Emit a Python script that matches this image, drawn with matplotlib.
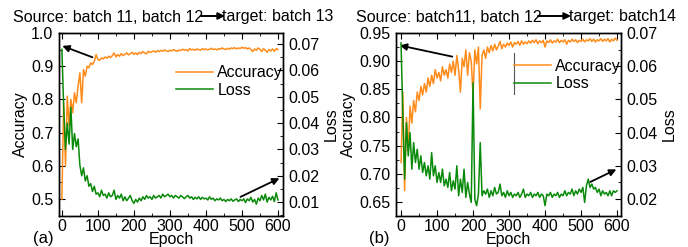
import numpy as np
import matplotlib
matplotlib.use('Agg')
import matplotlib.pyplot as plt

plt.rcParams['font.family'] = ['Liberation Sans', 'DejaVu Sans']
plt.rcParams['font.size'] = 11.5

# values, one every 5 epochs (0..600)
acc_a = [0.50, 0.79, 0.60, 0.81, 0.72, 0.80, 0.76, 0.82, 0.79, 0.84,
         0.88, 0.79, 0.89, 0.87, 0.90, 0.895, 0.91, 0.905, 0.915, 0.935,
         0.92, 0.918, 0.925, 0.922, 0.928, 0.924, 0.93, 0.926, 0.932, 0.94,
         0.928, 0.935, 0.93, 0.938, 0.932, 0.936, 0.94, 0.934, 0.938, 0.942,
         0.936, 0.94, 0.935, 0.942, 0.938, 0.944, 0.94, 0.937, 0.945, 0.941,
         0.944, 0.946, 0.942, 0.947, 0.944, 0.948, 0.945, 0.949, 0.946, 0.944,
         0.948, 0.946, 0.95, 0.947, 0.945, 0.949, 0.947, 0.951, 0.948, 0.95,
         0.946, 0.953, 0.949, 0.951, 0.948, 0.952, 0.95, 0.948, 0.953, 0.95,
         0.952, 0.949, 0.951, 0.954, 0.95, 0.952, 0.949, 0.953, 0.951, 0.955,
         0.952, 0.95, 0.954, 0.951, 0.955, 0.953, 0.956, 0.952, 0.955, 0.953,
         0.957, 0.954, 0.956, 0.952, 0.955, 0.95, 0.944, 0.952, 0.948, 0.955,
         0.951, 0.944, 0.953, 0.948, 0.942, 0.95, 0.946, 0.952, 0.945, 0.953,
         0.95]
loss_a = [0.068, 0.046, 0.030, 0.040, 0.032, 0.046, 0.030, 0.036, 0.031, 0.034,
          0.024, 0.020, 0.023, 0.018, 0.020, 0.016, 0.017, 0.014, 0.016, 0.013,
          0.0135, 0.012, 0.0145, 0.0125, 0.013, 0.0115, 0.0135, 0.012, 0.0125, 0.0145,
          0.011, 0.0125, 0.0115, 0.013, 0.0105, 0.012, 0.0105, 0.0115, 0.0125, 0.0105,
          0.0095, 0.011, 0.010, 0.0115, 0.0105, 0.012, 0.011, 0.0125, 0.0115, 0.012,
          0.011, 0.0125, 0.0115, 0.012, 0.0125, 0.0115, 0.013, 0.012, 0.0125, 0.013,
          0.012, 0.0125, 0.0115, 0.0125, 0.012, 0.0115, 0.0125, 0.012, 0.0113, 0.012,
          0.0125, 0.0115, 0.012, 0.011, 0.0118, 0.0112, 0.012, 0.011, 0.0118, 0.0112,
          0.0115, 0.0108, 0.012, 0.011, 0.0115, 0.0105, 0.0112, 0.0108, 0.0115, 0.0105,
          0.011, 0.0102, 0.011, 0.0105, 0.0112, 0.0103, 0.0108, 0.0112, 0.0102, 0.011,
          0.0105, 0.0112, 0.0098, 0.0112, 0.0105, 0.0118, 0.010, 0.011, 0.0092, 0.0115,
          0.0105, 0.0125, 0.0108, 0.013, 0.010, 0.0118, 0.0108, 0.0122, 0.0102, 0.0135,
          0.0108]
acc_b = [0.72, 0.845, 0.67, 0.80, 0.74, 0.82, 0.79, 0.83, 0.81, 0.845,
         0.83, 0.855, 0.84, 0.86, 0.845, 0.87, 0.855, 0.875, 0.86, 0.885,
         0.87, 0.88, 0.865, 0.89, 0.875, 0.885, 0.87, 0.895, 0.88, 0.90,
         0.875, 0.91, 0.885, 0.845, 0.905, 0.89, 0.92, 0.875, 0.915, 0.90,
         0.84, 0.92, 0.895, 0.925, 0.815, 0.91, 0.92, 0.905, 0.925, 0.915,
         0.928, 0.918, 0.93, 0.92, 0.927, 0.935, 0.922, 0.93, 0.925, 0.932,
         0.928, 0.934, 0.925, 0.933, 0.93, 0.935, 0.928, 0.936, 0.93, 0.934,
         0.931, 0.936, 0.932, 0.937, 0.933, 0.938, 0.931, 0.936, 0.933, 0.937,
         0.925, 0.936, 0.933, 0.938, 0.932, 0.936, 0.934, 0.939, 0.933, 0.937,
         0.934, 0.938, 0.93, 0.937, 0.934, 0.939, 0.935, 0.938, 0.933, 0.937,
         0.935, 0.939, 0.934, 0.938, 0.936, 0.94, 0.935, 0.939, 0.934, 0.938,
         0.936, 0.94, 0.935, 0.939, 0.936, 0.94, 0.934, 0.939, 0.936, 0.941,
         0.937]
loss_b = [0.067, 0.045, 0.026, 0.043, 0.033, 0.040, 0.029, 0.037, 0.031, 0.035,
          0.029, 0.033, 0.028, 0.031, 0.027, 0.030, 0.026, 0.034, 0.027, 0.030,
          0.025, 0.028, 0.025, 0.029, 0.024, 0.026, 0.0235, 0.028, 0.0225, 0.0255,
          0.023, 0.030, 0.021, 0.026, 0.022, 0.029, 0.0205, 0.025, 0.0215, 0.019,
          0.055, 0.020, 0.018, 0.0215, 0.037, 0.021, 0.0225, 0.0215, 0.023, 0.0205,
          0.0225, 0.021, 0.0235, 0.0215, 0.022, 0.0245, 0.021, 0.022, 0.0205, 0.0225,
          0.021, 0.022, 0.0205, 0.0215, 0.021, 0.022, 0.0205, 0.0215, 0.023, 0.0205,
          0.0215, 0.021, 0.022, 0.0205, 0.0215, 0.021, 0.022, 0.0205, 0.0215, 0.021,
          0.018, 0.0215, 0.021, 0.022, 0.0205, 0.0215, 0.021, 0.022, 0.0205, 0.0215,
          0.021, 0.0225, 0.021, 0.022, 0.0215, 0.023, 0.021, 0.0225, 0.0215, 0.023,
          0.022, 0.0235, 0.019, 0.024, 0.026, 0.0235, 0.0245, 0.023, 0.0235, 0.022,
          0.023, 0.021, 0.0225, 0.0215, 0.022, 0.021, 0.0225, 0.021, 0.0225, 0.022,
          0.0225]

titles = [("Source: batch 11, batch 12", "target: batch 13"),
          ("Source: batch11, batch 12", "target: batch14")]
panel_tags = ["(a)", "(b)"]

orange = '#ff8c1a'
green = '#0a8a0a'

fig = plt.figure(figsize=(6.88, 2.47), dpi=100)
W, H = 688, 247


def fx(px):
    return px / W


def fy(py):
    return 1 - py / H


def make_panel(left_px, right_px, acc, loss, ylim_acc, ylim_loss, yt_acc, yt_loss,
               acc_fmt, loss_fmt, xlim, arrow1, arrow2, leg_anchor):
    ax = fig.add_axes([fx(left_px), fy(216), fx(right_px - left_px), (216 - 33) / H])
    ax2 = ax.twinx()
    ep = np.arange(len(acc)) * 5
    l1, = ax.plot(ep, acc, color=orange, lw=1.1, label='Accuracy')
    l2, = ax2.plot(np.arange(len(loss)) * 5, loss, color=green, lw=1.1, label='Loss')
    ax.set_xlim(*xlim)
    ax.set_ylim(*ylim_acc)
    ax2.set_ylim(*ylim_loss)
    ax.set_xticks([0, 100, 200, 300, 400, 500, 600])
    ax.set_xticks([50, 150, 250, 350, 450, 550], minor=True)
    ax.set_yticks(yt_acc)
    ax.set_yticklabels([acc_fmt % v for v in yt_acc])
    ax2.set_yticks(yt_loss)
    ax2.set_yticklabels([loss_fmt % v for v in yt_loss])
    ax.yaxis.set_minor_locator(matplotlib.ticker.AutoMinorLocator(2))
    ax2.yaxis.set_minor_locator(matplotlib.ticker.AutoMinorLocator(2))
    ax.tick_params(which='both', direction='in', top=True, pad=2)
    ax.tick_params(axis='y', pad=4)
    ax2.tick_params(which='both', direction='in', pad=4)
    ax.tick_params(which='major', length=4)
    ax.tick_params(which='minor', length=2)
    ax2.tick_params(which='major', length=4)
    ax2.tick_params(which='minor', length=2)
    for a in (ax, ax2):
        for s in a.spines.values():
            s.set_linewidth(1.0)
    ax.set_ylabel('Accuracy', labelpad=2)
    ax2.set_ylabel('Loss', labelpad=3)
    ax.set_xlabel('Epoch', labelpad=-1)
    # arrows pointing at the axis each curve belongs to
    ax.annotate('', xy=arrow1[1], xytext=arrow1[0],
                arrowprops=dict(arrowstyle='-|>', color='black', lw=1.3, mutation_scale=10))
    ax2.annotate('', xy=arrow2[1], xytext=arrow2[0],
                 arrowprops=dict(arrowstyle='-|>', color='black', lw=1.3, mutation_scale=10))
    ax2.legend([l1, l2], ['Accuracy', 'Loss'], loc='center left', bbox_to_anchor=leg_anchor,
               frameon=False, borderpad=0, borderaxespad=0, handlelength=2.3,
               handletextpad=0.3, labelspacing=0.15, fontsize=11.5)
    return ax, ax2


make_panel(59, 283, acc_a, loss_a, (0.449, 1.0), (0.0047, 0.0742),
           [0.5, 0.6, 0.7, 0.8, 0.9, 1.0], [0.01, 0.02, 0.03, 0.04, 0.05, 0.06, 0.07],
           '%.1f', '%.2f', (-8, 614),
           ((92, 0.924), (-6, 0.964)), ((489, 0.0115), (611, 0.0195)), (0.522, 0.735))
ax_b, ax2_b = make_panel(396, 621, acc_b, loss_b, (0.625, 0.95), (0.0149, 0.07),
                         [0.65, 0.70, 0.75, 0.80, 0.85, 0.90, 0.95],
                         [0.02, 0.03, 0.04, 0.05, 0.06, 0.07],
                         '%.2f', '%.2f', (-14, 611),
                         ((150, 0.907), (-11, 0.929)), ((519, 0.0248), (605, 0.0293)),
                         (0.524, 0.770))
# thin grey stroke left of legend (b)
ax_b.axvline(x=ax_b.get_xlim()[0] + 0.524 * (ax_b.get_xlim()[1] - ax_b.get_xlim()[0]),
             ymin=0.667, ymax=0.891, color='#555555', lw=0.8)

# titles with arrow between source and target
title_pos = [(13, 201, 225, 333), (356, 538, 571, 676)]
for (src, tgt), (x0, a0, a1, x1) in zip(titles, title_pos):
    fig.text(fx(x0), fy(17), src, ha='left', va='center', fontsize=11.5)
    fig.text(fx(x1), fy(17), tgt, ha='right', va='center', fontsize=11.5)
    fig.add_artist(matplotlib.patches.FancyArrowPatch(
        (fx(a0), fy(16)), (fx(a1), fy(16)), transform=fig.transFigure,
        arrowstyle='-|>', mutation_scale=10, lw=1.4, color='black',
        shrinkA=0, shrinkB=0))

for tag, xp in zip(panel_tags, [43, 379]):
    fig.text(fx(xp), fy(238), tag, ha='center', va='center', fontsize=12)

fig.savefig('out.png', dpi=100)
